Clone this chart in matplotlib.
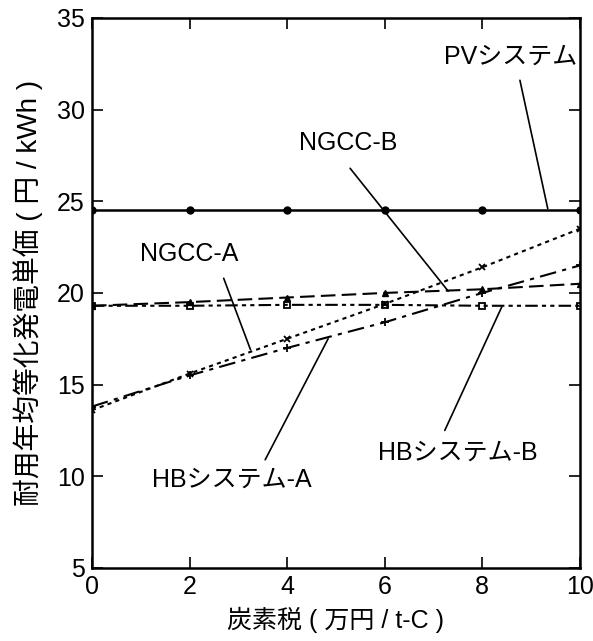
import matplotlib
matplotlib.use('Agg')
import matplotlib.pyplot as plt

plt.rcParams['font.family'] = ['Liberation Sans', 'Noto Sans CJK JP', 'DejaVu Sans']

# carbon tax (x) and levelized cost for each system
carbon_tax = [0, 2, 4, 6, 8, 10]
pv_system = [24.5, 24.5, 24.5, 24.5, 24.5, 24.5]
ngcc_a = [13.6, 15.6, 17.5, 19.4, 21.4, 23.5]
ngcc_b = [19.3, 19.5, 19.75, 20.0, 20.2, 20.5]
hb_a = [13.8, 15.5, 17.0, 18.4, 20.0, 21.5]
hb_b = [19.3, 19.3, 19.35, 19.35, 19.3, 19.3]

x_ticks = [0, 2, 4, 6, 8, 10]
y_ticks = [5, 10, 15, 20, 25, 30, 35]

fig = plt.figure(figsize=(5.93, 6.41), dpi=100)
ax = fig.add_axes([0.155, 0.114, 0.823, 0.858])

ax.plot(carbon_tax, pv_system, color='black', lw=1.8, marker='o', ms=5)
ax.plot(carbon_tax, ngcc_a, color='black', lw=1.5, dashes=(2, 2), marker='x', ms=5, mew=1.3)
ax.plot(carbon_tax, ngcc_b, color='black', lw=1.5, dashes=(7, 3), marker='^', ms=5)
ax.plot(carbon_tax, hb_a, color='black', lw=1.5, dashes=(8, 3, 2, 3), marker='+', ms=6, mew=1.3)
ax.plot(carbon_tax, hb_b, color='black', lw=1.5, dashes=(6, 2, 2, 2, 2, 2), marker='s', ms=5, mfc='none', mew=1.3)

ax.set_xlim(0, 10)
ax.set_ylim(5, 35)
ax.set_xticks(x_ticks)
ax.set_yticks(y_ticks)
ax.tick_params(direction='in', length=8, width=1.2, top=True, right=True, labelsize=18, pad=5)
for s in ax.spines.values():
    s.set_linewidth(1.8)

ax.set_xlabel('炭素税 ( 万円 / t-C )', fontsize=18, labelpad=6)
ax.set_ylabel('耐用年均等化発電単価 ( 円 / kWh )', fontsize=20, labelpad=10)

fs = 18
arrow = dict(arrowstyle='-', color='black', lw=1.2, shrinkA=0, shrinkB=0)
ax.text(8.57, 32.9, 'PVシステム', fontsize=fs, ha='center', va='center')
ax.annotate('', xy=(9.34, 24.6), xytext=(8.77, 31.6), arrowprops=arrow)
ax.text(5.25, 28.2, 'NGCC-B', fontsize=fs, ha='center', va='center')
ax.annotate('', xy=(7.3, 20.1), xytext=(5.29, 26.8), arrowprops=arrow)
ax.text(2.0, 22.1, 'NGCC-A', fontsize=fs, ha='center', va='center')
ax.annotate('', xy=(3.25, 16.9), xytext=(2.7, 20.8), arrowprops=arrow)
ax.text(2.87, 9.8, 'HBシステム-A', fontsize=fs, ha='center', va='center')
ax.annotate('', xy=(4.84, 17.5), xytext=(3.55, 10.9), arrowprops=arrow)
ax.text(7.5, 11.3, 'HBシステム-B', fontsize=fs, ha='center', va='center')
ax.annotate('', xy=(8.4, 19.25), xytext=(7.23, 12.5), arrowprops=arrow)

fig.savefig('out.png', dpi=100)
